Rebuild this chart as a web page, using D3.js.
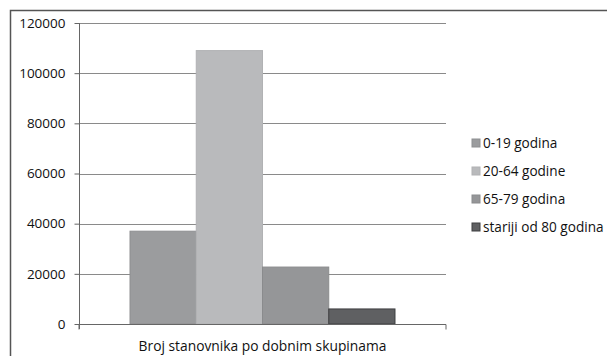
<!DOCTYPE html>
<html>
<head>
<meta charset="utf-8">
<script src="https://cdn.jsdelivr.net/npm/d3@7"></script>
<style>
  html, body { margin: 0; padding: 0; background: #fff; }
  svg { display: block; }
  text { font-family: "Open Sans", sans-serif; fill: #111; }
</style>
</head>
<body>
<svg id="chart" width="607" height="356"></svg>
<script>
// Population by age group
const categories = ["Broj stanovnika po dobnim skupinama"];
const seriesNames = ["0-19 godina", "20-64 godine", "65-79 godina", "stariji od 80 godina"];
const seriesValues = [37000, 109000, 22700, 6000];
const seriesColors = ["#9b9c9e", "#b9babc", "#959698", "#5f6062"];
const seriesStrokes = ["#8e8f91", "#b1b2b4", "#8a8b8d", "#3e3f41"];
const yTicks = [0, 20000, 40000, 60000, 80000, 100000, 120000];

const svg = d3.select("#chart");

// outer frame (clipped by the window on the right and bottom)
svg.append("path")
  .attr("d", "M10.5,360 L10.5,10.5 L620,10.5")
  .attr("fill", "none")
  .attr("stroke", "#555")
  .attr("stroke-width", 1.5);

const plot = { left: 79, right: 446, top: 23, bottom: 324 };

const y = d3.scaleLinear().domain([0, 120000]).range([plot.bottom, plot.top]);
const x0 = d3.scaleBand().domain(categories).range([plot.left, plot.right]).padding(0);
const x1 = d3.scaleBand().domain(seriesNames).range([0, x0.bandwidth()])
  .paddingInner(0).paddingOuter(0.77);

// gridlines
svg.append("g")
  .selectAll("line")
  .data(yTicks.filter(d => d > 0))
  .join("line")
  .attr("x1", plot.left)
  .attr("x2", plot.right)
  .attr("y1", d => Math.round(y(d)) + 0.5)
  .attr("y2", d => Math.round(y(d)) + 0.5)
  .attr("stroke", "#8a8a8a")
  .attr("stroke-width", 1);

// y axis
const yAxis = d3.axisLeft(y).tickValues(yTicks).tickSize(5).tickPadding(9)
  .tickFormat(d3.format("d"));
const gy = svg.append("g")
  .attr("transform", `translate(${plot.left + 0.5},0)`)
  .call(yAxis);
gy.select(".domain").attr("stroke", "#666").attr("d", `M0,${plot.top}V${plot.bottom + 5}`);
gy.selectAll(".tick line").attr("stroke", "#666");
gy.selectAll(".tick text")
  .style("font-family", "'Open Sans', sans-serif")
  .style("font-size", "13.5px")
  .attr("fill", "#111");

// bars
svg.append("g")
  .selectAll("rect")
  .data(seriesNames.map((s, i) => ({ cat: categories[0], name: s, value: seriesValues[i], i })))
  .join("rect")
  .attr("x", d => x0(d.cat) + x1(d.name))
  .attr("y", d => y(d.value))
  .attr("width", x1.bandwidth())
  .attr("height", d => y(0) - y(d.value))
  .attr("fill", d => seriesColors[d.i])
  .attr("stroke", d => seriesStrokes[d.i])
  .attr("stroke-width", 1);

// x axis
const xAxis = d3.axisBottom(x0).tickSize(0).tickPadding(0).tickFormat("");
const gx = svg.append("g")
  .attr("transform", `translate(0,${plot.bottom + 0.5})`)
  .call(xAxis);
gx.select(".domain").attr("stroke", "#666")
  .attr("d", `M${plot.left},5V0H${plot.right}V5`);

svg.append("text")
  .attr("x", x0(categories[0]) + x0.bandwidth() / 2)
  .attr("y", 351)
  .attr("text-anchor", "middle")
  .style("font-size", "13.8px")
  .text(categories[0]);

// legend
const legend = svg.append("g").attr("transform", "translate(472,143)");
const rows = legend.selectAll("g")
  .data(seriesNames)
  .join("g")
  .attr("transform", (d, i) => `translate(0,${i * 28})`);
rows.append("rect")
  .attr("x", 0).attr("y", -4)
  .attr("width", 8).attr("height", 8)
  .attr("fill", (d, i) => seriesColors[i])
  .attr("stroke", (d, i) => seriesStrokes[i]);
rows.append("text")
  .attr("x", 11)
  .attr("y", 0)
  .attr("dy", "0.35em")
  .style("font-size", "13.6px")
  .text(d => d);
</script>
</body>
</html>
